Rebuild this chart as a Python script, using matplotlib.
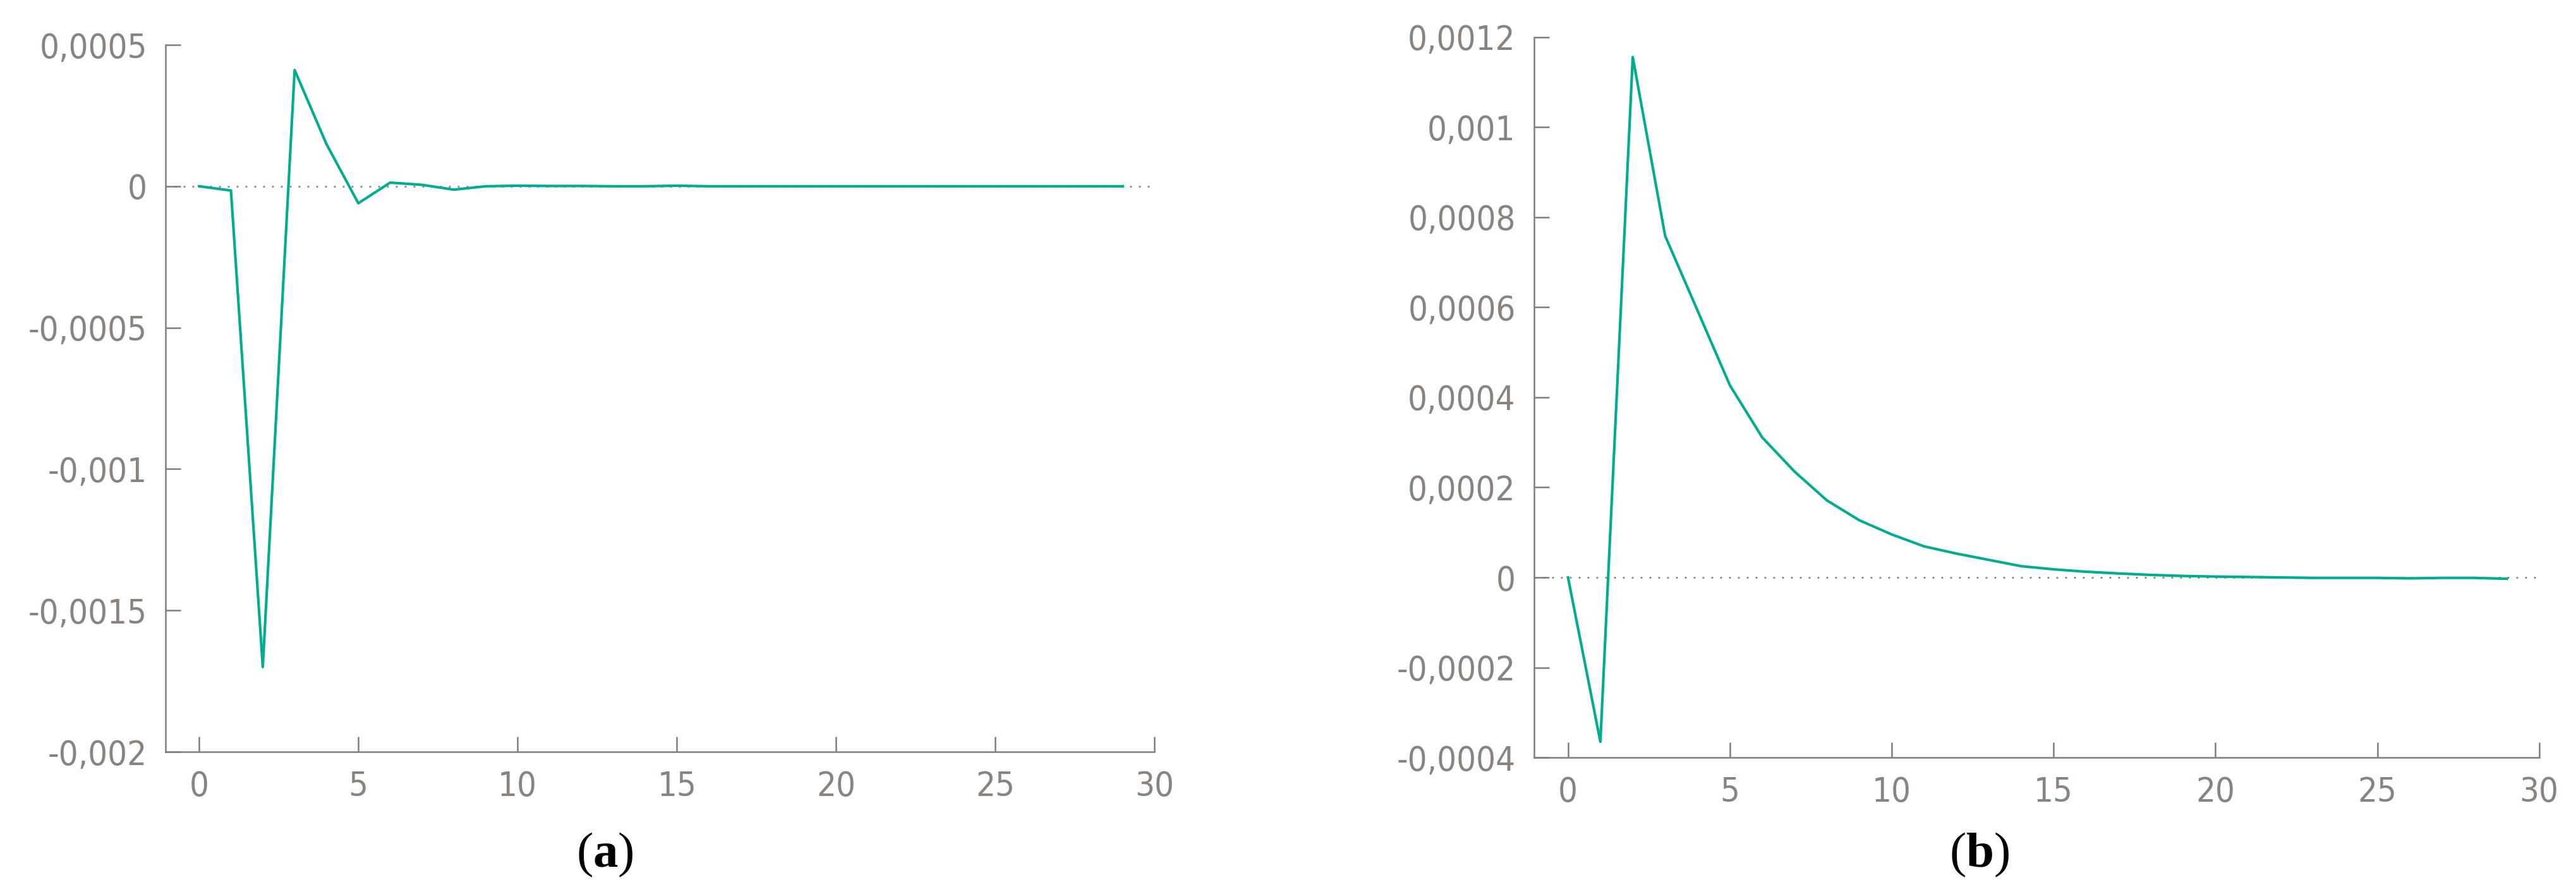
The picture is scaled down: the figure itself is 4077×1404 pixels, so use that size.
import matplotlib
matplotlib.use("Agg")
import matplotlib.pyplot as plt
from matplotlib.ticker import FuncFormatter, MultipleLocator

# impulse responses, periods 0..29
periods = list(range(30))

resp_a = [0.0, -0.000015, -0.0017, 0.000411, 0.000149, -0.00006, 0.000013,
          0.000005, -0.000012, 0.0, 0.000002, 0.000001, 0.000001, 0.0, 0.0,
          0.000002, 0.0, 0.0, 0.0, 0.0, 0.0, 0.0, 0.0, 0.0, 0.0, 0.0, 0.0,
          0.0, 0.0, 0.0]

resp_b = [0.0, -0.000365, 0.001156, 0.000759, 0.000593, 0.000427, 0.000311,
          0.000235, 0.000171, 0.000127, 0.0000955, 0.000069, 0.000053,
          0.000039, 0.000025, 0.000018, 0.0000127, 0.0000089, 0.0000056,
          0.0000033, 0.0000019, 0.000001, 0.0, -0.000001, -0.000001,
          -0.000001, -0.000002, -0.000001, -0.000001, -0.000003]

yticks_a = [-0.002, -0.0015, -0.001, -0.0005, 0.0, 0.0005]
yticks_b = [-0.0004, -0.0002, 0.0, 0.0002, 0.0004, 0.0006, 0.0008, 0.001, 0.0012]

LINE = "#00ad8e"
AXIS = "#7f7f7f"
LABEL = "#8a8480"

plt.rcParams.update({
    "font.family": ["DejaVu Sans"],
    "font.stretch": "condensed",
    "font.size": 12,
    "mathtext.fontset": "custom",
    "mathtext.rm": "Liberation Serif",
    "mathtext.bf": "Liberation Serif:bold",
})


def comma_fmt(v, pos):
    if abs(v) < 1e-12:
        return "0"
    s = f"{v:.4f}".rstrip("0").rstrip(".")
    return s.replace(".", ",")


fig = plt.figure(figsize=(4077 / 300, 1404 / 300), dpi=300)
ax_a = fig.add_axes([0.0643, 0.1524, 0.3839, 0.797])
ax_b = fig.add_axes([0.5955, 0.146, 0.3902, 0.812])

for ax, series, yticks in [(ax_a, resp_a, yticks_a), (ax_b, resp_b, yticks_b)]:
    ax.axhline(0, color="#8f8f8f", linewidth=0.7, linestyle=(0, (1, 3.8)), zorder=1)
    ax.plot(periods, series, color=LINE, linewidth=1.0, zorder=3)
    ax.set_xlim(-1.05, 30)
    ax.set_ylim(yticks[0], yticks[-1])
    ax.set_yticks(yticks)
    ax.xaxis.set_major_locator(MultipleLocator(5))
    ax.yaxis.set_major_formatter(FuncFormatter(comma_fmt))
    for side in ["top", "right"]:
        ax.spines[side].set_visible(False)
    for side in ["left", "bottom"]:
        ax.spines[side].set_color(AXIS)
        ax.spines[side].set_linewidth(0.6)
    ax.tick_params(direction="in", length=5.8, width=0.6, color=AXIS,
                   labelcolor=LABEL, labelsize=13, pad=7)

fig.text(957 / 4077, 1 - 1353 / 1404, r"($\mathbf{a}$)", ha="center", va="center",
         fontsize=19, family="Liberation Serif")
fig.text(3133 / 4077, 1 - 1353 / 1404, r"($\mathbf{b}$)", ha="center", va="center",
         fontsize=19, family="Liberation Serif")

fig.savefig("out.png", dpi=300)
plt.close(fig)
